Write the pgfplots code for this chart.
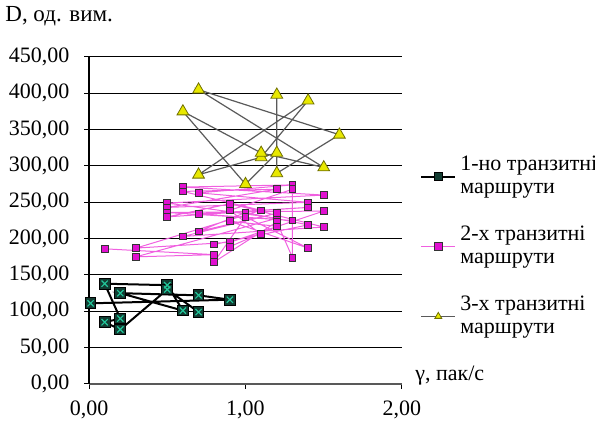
\documentclass[border=0pt]{standalone}
\usepackage{fontspec}
\setmainfont{Liberation Serif}
\usepackage{pgfplots}
\pgfplotsset{compat=1.18}
\definecolor{sAfill}{HTML}{123C32}
\definecolor{sAx}{HTML}{22C79A}
\definecolor{sBline}{HTML}{F060E0}
\definecolor{sBfill}{HTML}{E010D0}
\definecolor{sCline}{HTML}{5A5A5A}
\definecolor{sCfill}{HTML}{E8E800}
\definecolor{sCdraw}{HTML}{707000}
\pgfplotstableread{
x y
0.01 111
0.9 116
0.7 122
0.2 125
0.6 101
0.5 136
0.1 138
0.2 90
0.1 85
0.2 75
0.5 130
0.7 99
}\seriesA
\begin{document}
\fontsize{11}{11.5}\selectfont
\begin{tikzpicture}
\useasboundingbox (-44.5pt,-21pt) rectangle (253pt,192pt);
\begin{axis}[
  scale only axis, width=156.5pt, height=163.5pt,
  at={(0,0)}, anchor=south west,
  xmin=0, xmax=2, ymin=0, ymax=450,
  clip=false,
  axis x line=bottom, axis y line=left,
  axis line style={-, line width=0.6pt},
  x axis line style={black!65},
  xtick={0,1,2}, ytick={0,50,...,450},
  ymajorgrids, grid style={black, line width=0.5pt},
  tick align=outside, major tick length=2.5pt,
  tick style={black, line width=0.5pt},
  x tick label style={yshift=-2pt},
  y tick label style={xshift=-3.5pt},
  /pgf/number format/.cd, use comma, fixed, fixed zerofill, precision=2, assume math mode=true,
  /pgfplots/.cd,
  legend style={draw=none, fill=none, at={(1.057,0.71)}, anchor=north west,
    inner sep=0pt, row sep=10.5pt,
    cells={anchor=west, align=left}},
  every legend image post/.style={mark size=2pt},
  legend image code/.code={\draw[mark repeat=2,mark phase=2] plot coordinates {(0cm,0cm) (0.3cm,0cm) (0.6cm,0cm)};},
]
\addplot[black, line width=1pt, mark=square*, mark size=2.7pt, mark options={fill=sAfill, draw=black, line width=0.5pt}] table {\seriesA};
\addlegendentry{1-но транзитні\\маршрути}
\addplot[forget plot, only marks, mark=x, mark size=2.2pt, mark options={draw=sAx, line width=0.6pt}] table {\seriesA};
\addplot[sBline, line width=0.5pt, mark=square*, mark size=1.7pt, mark options={fill=sBfill, draw=black!80, line width=0.4pt}] coordinates {
(0.1,186) (0.8,178) (0.3,175) (1.2,228) (0.5,249) (1.5,260) (0.6,271) (1.3,274) (0.7,263) (1.4,250)
(0.5,243) (1.2,268) (0.6,265) (1.1,239) (0.3,187) (0.9,195) (1.5,238) (0.5,236) (1.3,225) (0.7,234)
(1.4,243) (0.5,230) (0.9,248) (1.5,216) (0.6,203) (1.2,235) (0.7,210) (1.0,236) (1.4,219) (0.8,192)
(1.1,206) (0.9,239) (1.3,268) (1.3,174) (1.2,223) (0.8,168) (1.0,230) (1.4,187) (0.9,224) (1.2,217)
(0.9,189)
};
\addlegendentry{2-х транзитні\\маршрути}
\addplot[sCline, line width=0.6pt, mark=triangle*, mark size=3.4pt, mark options={fill=sCfill, draw=sCdraw, line width=0.4pt}] coordinates {
(1.1,312) (1.4,390) (0.7,288) (1.2,318) (1.0,275) (0.6,375) (1.1,318) (1.5,298) (0.7,405) (1.6,343) (1.2,290) (1.2,398)
};
\addlegendentry{3-х транзитні\\маршрути}
\end{axis}
\node[anchor=base west, inner sep=0pt, font=\fontsize{11.5}{12}\selectfont] at (-42pt,181pt) {D, од. вим.};
\node[anchor=west, inner sep=0pt] at (163pt,4pt) {γ, пак/с};
\end{tikzpicture}
\end{document}
